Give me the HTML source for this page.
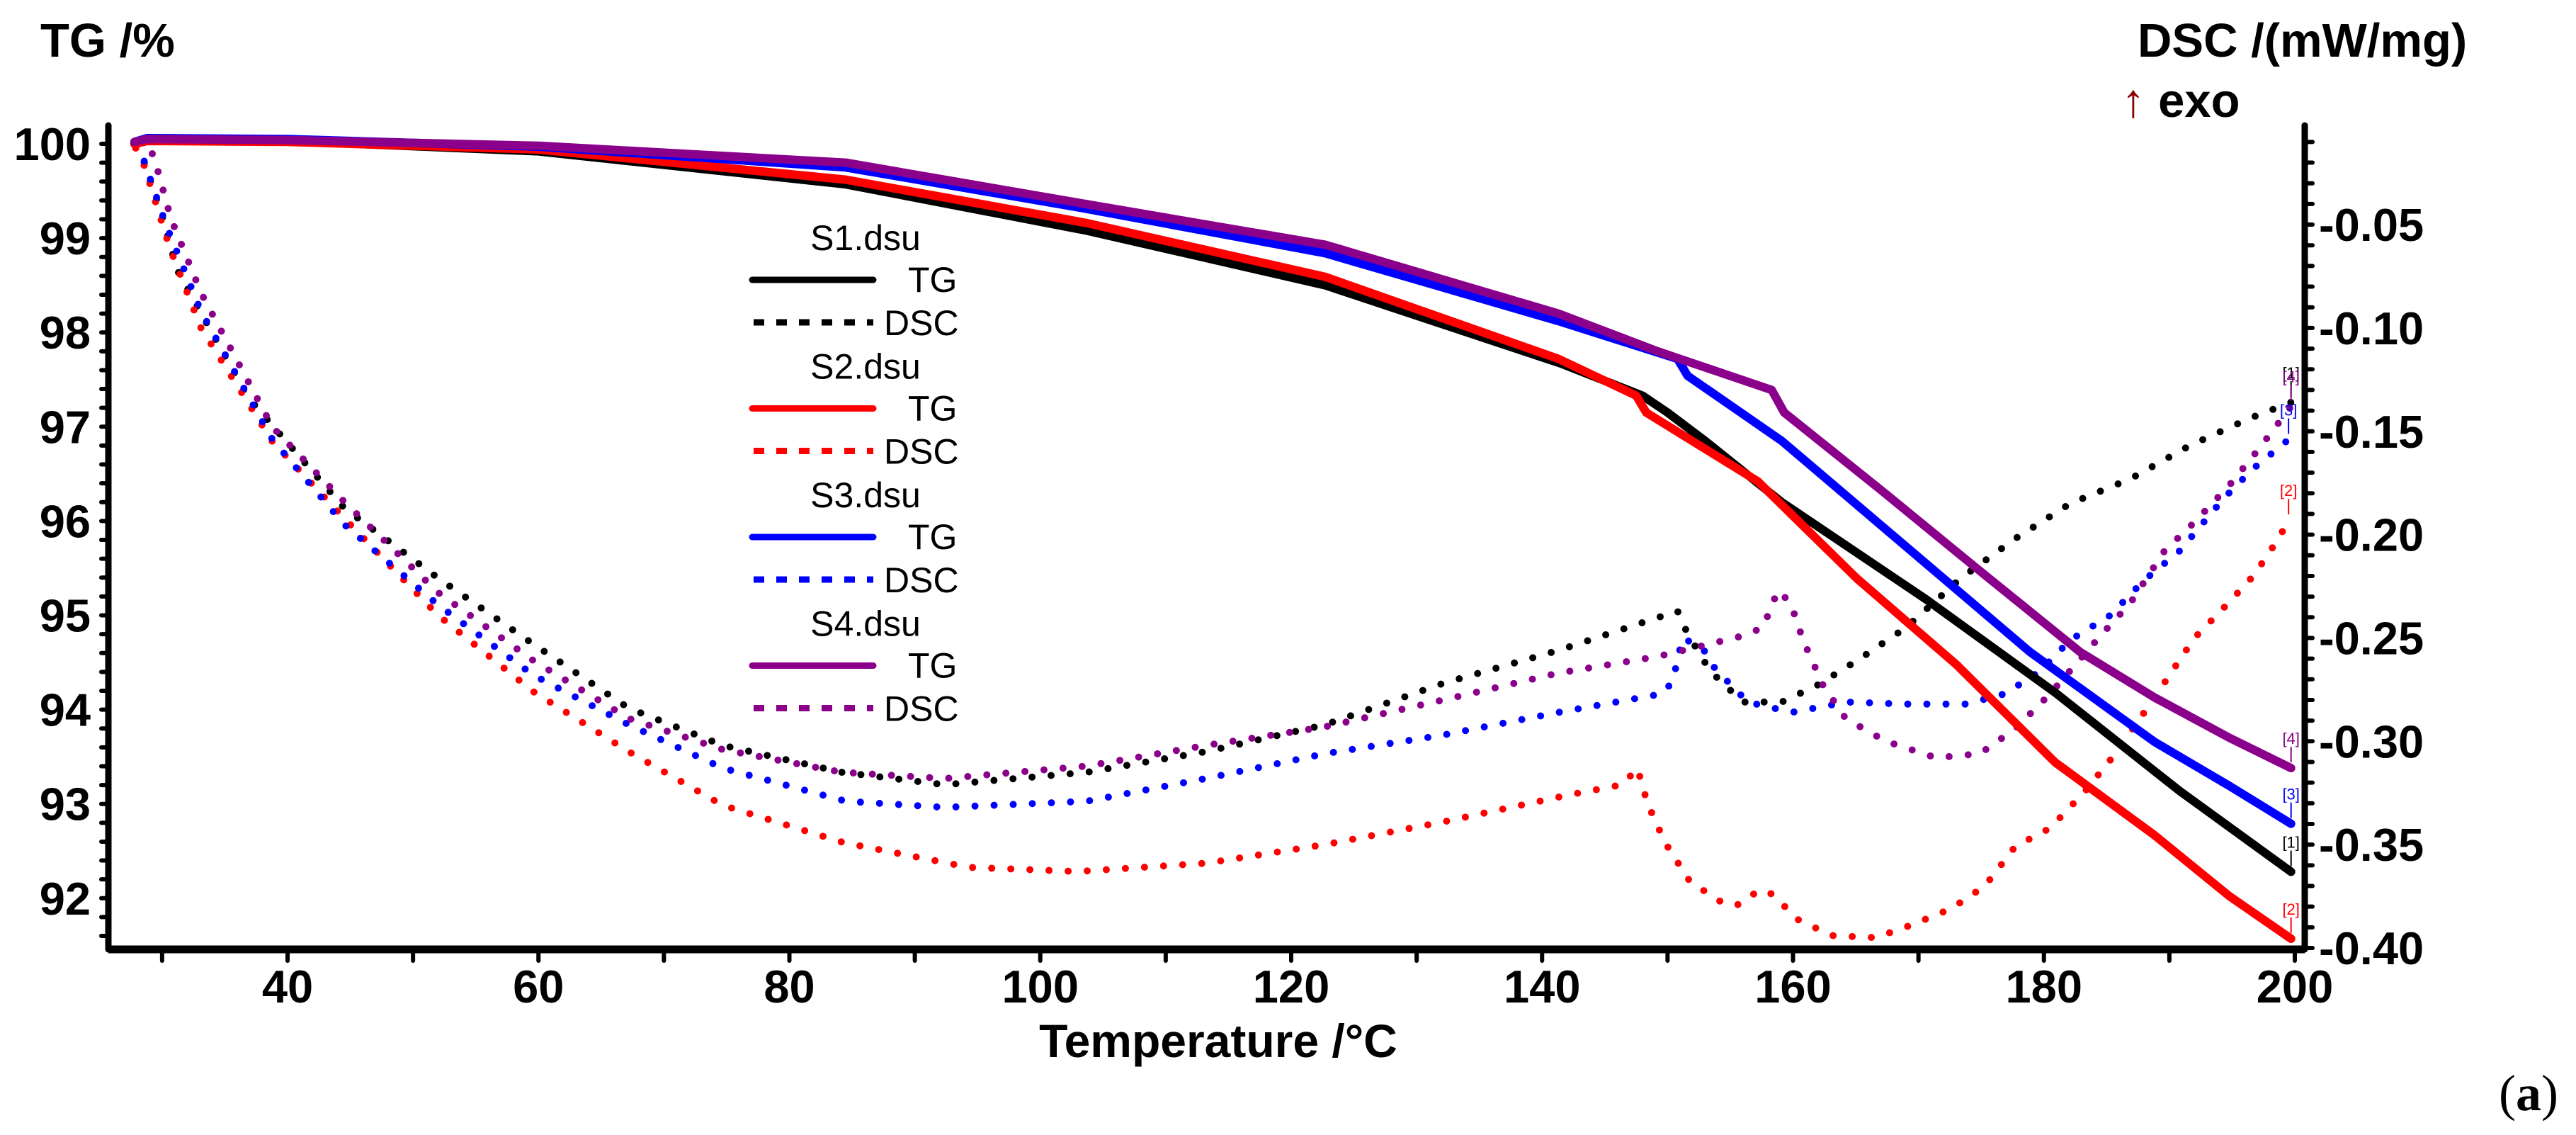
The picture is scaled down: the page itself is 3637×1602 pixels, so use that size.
<!DOCTYPE html>
<html><head><meta charset="utf-8">
<style>
html,body{margin:0;padding:0;background:#fff;}
svg{display:block;font-family:"Liberation Sans",Arial,sans-serif;}
</style></head>
<body>
<svg id="chart" xmlns="http://www.w3.org/2000/svg" width="3637" height="1602" viewBox="0 0 3637 1602">
  <rect x="0" y="0" width="3637" height="1602" fill="#fff"/>
  <g id="ticks"></g>
  <g id="series"></g>
  <g id="axes">
    <line x1="153" y1="177" x2="153" y2="1340" stroke="#000" stroke-width="9" stroke-linecap="round"/>
    <line x1="3254" y1="177" x2="3254" y2="1340" stroke="#000" stroke-width="9" stroke-linecap="round"/>
    <line x1="153" y1="1340" x2="3254" y2="1340" stroke="#000" stroke-width="11"/>
  </g>
  <g id="labels" font-weight="bold" font-size="65"></g>
  <text x="57" y="80" font-size="67" font-weight="bold">TG /%</text>
  <text x="3018" y="80" font-size="67" font-weight="bold">DSC /(mW/mg)</text>
  <text x="2995" y="165" font-size="67" font-weight="bold"><tspan fill="#8b0000" font-weight="normal">↑</tspan> exo</text>
  <text x="1720" y="1492" font-size="66" font-weight="bold" text-anchor="middle">Temperature /°C</text>
  <text x="3528" y="1567" font-size="72" font-family="'Liberation Serif',serif">(<tspan font-weight="bold">a</tspan>)</text>
  <g id="legend" font-size="50"></g>
  <g id="endlabels" font-size="22"></g>
</svg>
<script>
// ---- data ----
const xTicks = [40, 60, 80, 100, 120, 140, 160, 180, 200];
const tgTicks = [92, 93, 94, 95, 96, 97, 98, 99, 100];
const dscTicks = [-0.40, -0.35, -0.30, -0.25, -0.20, -0.15, -0.10, -0.05];
const dscTickLabels = ["-0.40", "-0.35", "-0.30", "-0.25", "-0.20", "-0.15", "-0.10", "-0.05"];

const tgTemp1 = [27.8,28.8,40,60,84.5,103.7,122.7,141.5,148,150,153,159.1,170.6,180.9,190.8,199.7];
const tgVal1  = [100.0,100.03,100.03,99.92,99.57,99.08,98.50,97.67,97.33,97.15,96.85,96.2,95.17,94.18,93.14,92.28];
const tgTemp2 = [27.8,28.8,40,60,84.5,103.7,122.7,141.3,147.5,148.3,157.2,165.1,173,180.9,188.8,194.8,199.7];
const tgVal2  = [100.0,100.03,100.02,99.94,99.62,99.16,98.59,97.72,97.33,97.15,96.42,95.39,94.48,93.44,92.67,92.02,91.57];
const tgTemp3 = [27.8,28.8,40,60,84.5,103.7,122.7,141.3,150.8,151.6,159.1,169,178.9,188.8,194.8,199.7];
const tgVal3  = [100.02,100.06,100.05,99.97,99.75,99.31,98.84,98.12,97.72,97.54,96.85,95.73,94.61,93.66,93.19,92.79];
const tgTemp4 = [27.8,28.8,40,60,84.5,103.7,122.7,141.3,149.2,158.3,159.3,167,174.9,182.9,188.8,194.8,199.7];
const tgVal4  = [100.02,100.05,100.04,99.98,99.8,99.36,98.93,98.2,97.8,97.39,97.15,96.33,95.47,94.61,94.13,93.70,93.38];

const dscTemp1 = [27.9,28.4,30.0,31.2,36.9,44.5,52,59.6,67.2,74.7,84.2,92.4,103.7,113.2,122.7,132.1,141.3,150.8,151.6,153.4,156,159.1,161.9,165.1,169,173.4,177.7,182.1,186.9,191.6,196.3,199.7];
const dscVal1  = [-0.012,-0.017,-0.046,-0.072,-0.134,-0.187,-0.221,-0.253,-0.284,-0.302,-0.315,-0.321,-0.315,-0.305,-0.292,-0.272,-0.256,-0.237,-0.248,-0.266,-0.281,-0.281,-0.273,-0.261,-0.245,-0.221,-0.202,-0.185,-0.173,-0.157,-0.144,-0.136];
const dscTemp2 = [27.9,28.5,30.6,33.1,38.8,44.5,52,59.6,67.2,74.7,84.3,94.3,103,113.2,122.7,132.1,142.1,146.4,147.6,148.4,149.8,151.8,154.6,155.7,157.3,158.4,160.3,163.1,166.6,169.4,172.6,175.3,177.7,180.5,183.3,185.7,188.8,192,194.4,196.7,198.7,199.5];
const dscVal2  = [-0.013,-0.020,-0.061,-0.100,-0.155,-0.192,-0.239,-0.276,-0.305,-0.331,-0.349,-0.361,-0.363,-0.359,-0.350,-0.339,-0.326,-0.321,-0.313,-0.330,-0.349,-0.368,-0.379,-0.379,-0.372,-0.374,-0.386,-0.394,-0.395,-0.389,-0.381,-0.370,-0.351,-0.342,-0.324,-0.306,-0.279,-0.250,-0.235,-0.220,-0.202,-0.193];
const dscTemp3 = [27.9,28.5,30.3,33.1,38.8,44.5,52,59.6,67.2,74.7,84.5,92.4,103.7,113.2,122.7,132.1,141.3,149.6,150.4,151.2,152.8,153.8,156.4,159.9,164.3,169,173.8,176.9,179.7,182.1,185.3,188,190.8,194.4,196.7,199.5];
const dscVal3  = [-0.011,-0.018,-0.050,-0.092,-0.154,-0.195,-0.234,-0.268,-0.292,-0.313,-0.329,-0.332,-0.329,-0.318,-0.306,-0.297,-0.286,-0.277,-0.271,-0.250,-0.255,-0.265,-0.281,-0.286,-0.281,-0.282,-0.282,-0.277,-0.266,-0.251,-0.239,-0.222,-0.208,-0.182,-0.168,-0.154];
const dscTemp4 = [27.9,29.3,30.7,33.1,38.8,44.5,52,59.6,67.2,74.7,84.2,92.4,103.7,113.2,122.7,132.1,141.3,149.2,153.3,156,157.6,158.8,159.8,160.8,162.4,164.2,167.4,171.4,174.9,177.7,180.5,184.5,186.9,189.6,192,194.8,197.2,199.7];
const dscVal4  = [-0.011,-0.016,-0.047,-0.083,-0.148,-0.184,-0.228,-0.261,-0.289,-0.304,-0.315,-0.318,-0.312,-0.302,-0.293,-0.280,-0.267,-0.259,-0.253,-0.249,-0.245,-0.227,-0.233,-0.251,-0.273,-0.289,-0.300,-0.308,-0.306,-0.294,-0.277,-0.249,-0.233,-0.208,-0.194,-0.176,-0.158,-0.138];

const seriesNames = ["S1.dsu", "S2.dsu", "S3.dsu", "S4.dsu"];
const seriesColors = ["#000000", "#ff0000", "#0000ff", "#8b008b"];

// ---- axis functions ----
function xScale(t){ return 406 + (t - 40) * 17.7125; }
function tgScale(v){ return 203 + (100 - v) * 133.1; }
function dscScale(d){ return 1338 - (d + 0.40) * 2917; }

const NS = "http://www.w3.org/2000/svg";
function mk(tag, attrs, parent){
  const e = document.createElementNS(NS, tag);
  for (const k in attrs) e.setAttribute(k, attrs[k]);
  parent.appendChild(e);
  return e;
}

const ticksG = document.getElementById('ticks');
const labelsG = document.getElementById('labels');
const seriesG = document.getElementById('series');
const legendG = document.getElementById('legend');
const endG = document.getElementById('endlabels');

for (let t = 30; t <= 200; t += 10){
  const tk = mk('line', {x1: xScale(t), y1: 1340, x2: xScale(t), y2: 1356, stroke: '#000', 'stroke-width': 6, 'stroke-linecap': 'round'}, ticksG);
  
  
}
xTicks.forEach(t => {
  const tx = mk('text', {x: xScale(t), y: 1415, 'text-anchor': 'middle'}, labelsG);
  
  
  tx.textContent = t;
});
for (let i = 0; i <= 42; i++){
  const v = 91.6 + i * 0.2;
  const y = tgScale(v);
  if (y < 180 || y > 1338) continue;
  const tk = mk('line', {x1: 153, y1: y, x2: 143, y2: y, stroke: '#000', 'stroke-width': 6, 'stroke-linecap': 'round'}, ticksG);
  
  
}
tgTicks.forEach(v => {
  const tx = mk('text', {x: 128, y: tgScale(v) + 23, 'text-anchor': 'end'}, labelsG);
  
  
  tx.textContent = v;
});
for (let i = 0; i <= 40; i++){
  const d = -0.40 + i * 0.01;
  const y = dscScale(d);
  if (y < 180) continue;
  const tk = mk('line', {x1: 3254, y1: y, x2: 3265, y2: y, stroke: '#000', 'stroke-width': 6, 'stroke-linecap': 'round'}, ticksG);
  
  
}
dscTicks.forEach((d, i) => {
  const tx = mk('text', {x: 3274, y: dscScale(d) + 23, 'text-anchor': 'start'}, labelsG);
  
  
  tx.textContent = dscTickLabels[i];
});

const tgTemps = [tgTemp1, tgTemp2, tgTemp3, tgTemp4];
const tgVals = [tgVal1, tgVal2, tgVal3, tgVal4];
const dscTemps = [dscTemp1, dscTemp2, dscTemp3, dscTemp4];
const dscVals = [dscVal1, dscVal2, dscVal3, dscVal4];
function pts(ts, vs, f){ return ts.map((t, i) => xScale(t).toFixed(1) + ',' + f(vs[i]).toFixed(1)).join(' '); }

[0, 1, 2, 3].forEach(i => {
  const dl = mk('polyline', {points: pts(dscTemps[i], dscVals[i], dscScale), fill: 'none', stroke: seriesColors[i], 'stroke-width': 10, 'stroke-linecap': 'round', 'stroke-dasharray': '0 27'}, seriesG);
  
  
});
[0, 1, 2, 3].forEach(i => {
  const tl = mk('polyline', {points: pts(tgTemps[i], tgVals[i], tgScale), fill: 'none', stroke: seriesColors[i], 'stroke-width': 12, 'stroke-linejoin': 'round', 'stroke-linecap': 'round'}, seriesG);
  
  
});

[0, 1, 2, 3].forEach(i => {
  const tT = tgTemps[i][tgTemps[i].length - 1], tV = tgVals[i][tgVals[i].length - 1];
  const dT = dscTemps[i][dscTemps[i].length - 1], dV = dscVals[i][dscVals[i].length - 1];
  [[tT, tgScale(tV)], [dT, dscScale(dV)]].forEach(p => {
    const x = xScale(p[0]);
    const lb = mk('text', {x: x, y: p[1] - 34, fill: seriesColors[i], 'text-anchor': 'middle'}, endG);
    
    
    lb.textContent = '[' + (i + 1) + ']';
    const ln = mk('line', {x1: x, y1: p[1] - 30, x2: x, y2: p[1] - 8, stroke: seriesColors[i], 'stroke-width': 2}, endG);
    
    
  });
});

[0, 1, 2, 3].forEach(i => {
  const base = 353 + i * 181.5;
  const nm = mk('text', {x: 1222, y: base, 'text-anchor': 'middle'}, legendG);
  
  
  nm.textContent = seriesNames[i];
  const l1 = mk('line', {x1: 1062, y1: base + 42, x2: 1233, y2: base + 42, stroke: seriesColors[i], 'stroke-width': 9, 'stroke-linecap': 'round'}, legendG);
  
  
  const t1 = mk('text', {x: 1282, y: base + 59}, legendG);
  
  
  t1.textContent = 'TG';
  const l2 = mk('line', {x1: 1064, y1: base + 102, x2: 1233, y2: base + 102, stroke: seriesColors[i], 'stroke-width': 9, 'stroke-dasharray': '15 17'}, legendG);
  
  
  const t2 = mk('text', {x: 1248, y: base + 120}, legendG);
  
  
  t2.textContent = 'DSC';
});
</script>
</body></html>
